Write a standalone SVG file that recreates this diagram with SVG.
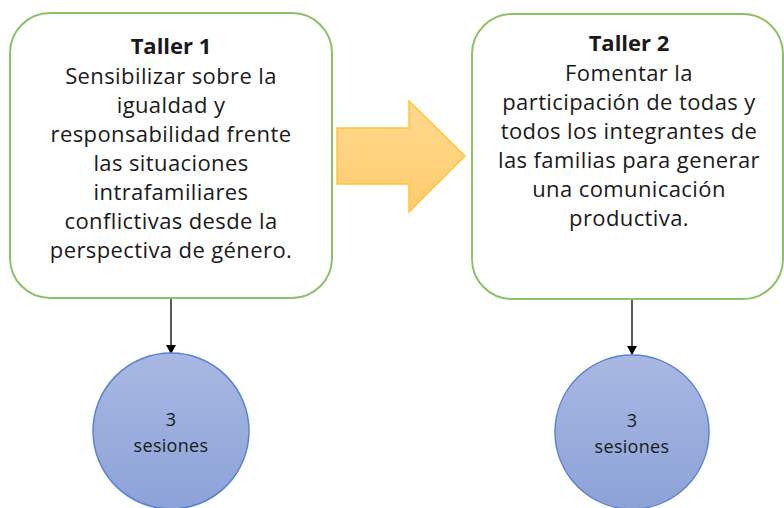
<svg xmlns="http://www.w3.org/2000/svg" width="784" height="508" viewBox="0 0 784 508">
<defs>
<linearGradient id="gBlue" x1="0" y1="0" x2="0" y2="1">
<stop offset="0" stop-color="#a8b8e2"/>
<stop offset="1" stop-color="#8ca2d8"/>
</linearGradient>
<linearGradient id="gOrange" x1="0" y1="0" x2="0" y2="1">
<stop offset="0" stop-color="#ffd98f"/>
<stop offset="1" stop-color="#ffcc6e"/>
</linearGradient>
<marker id="ah" markerWidth="10" markerHeight="10" refX="8" refY="5" orient="auto" markerUnits="userSpaceOnUse">
<path d="M0,0 L9,5 L0,10 Z" fill="#000"/>
</marker>
<style>
.box{fill:#fff;stroke:#8cc168;stroke-width:2}
.circ{fill:url(#gBlue);stroke:#5b82cf;stroke-width:1.5}
.t{font-family:"Open Sans","Noto Sans","Liberation Sans",sans-serif;font-size:22px;letter-spacing:0.4px;fill:#1a1a1a;text-anchor:middle}
.b{font-weight:bold;letter-spacing:0}
.s{font-family:"Open Sans","Noto Sans","Liberation Sans",sans-serif;font-size:18px;letter-spacing:0.3px;fill:#1a1a1a;text-anchor:middle}
.conn{stroke:#000;stroke-width:1.3;fill:none}
</style>
</defs>
<g id="connectors">
<line class="conn" x1="171" y1="298" x2="171" y2="353" marker-end="url(#ah)"/>
<line class="conn" x1="632" y1="299" x2="632" y2="354" marker-end="url(#ah)"/>
</g>
<g id="bigArrow">
<path d="M337,128 L409,128 L409,101 L465,156 L409,212 L409,184 L337,184 Z" fill="url(#gOrange)" stroke="#ffc533" stroke-width="1.5"/>
</g>
<g id="taller1">
<rect class="box" x="10" y="13" width="322" height="285" rx="40" ry="40"/>
<text class="t b" x="171" y="54">Taller 1</text>
<text class="t" x="171" y="84">Sensibilizar sobre la</text>
<text class="t" x="171" y="113">igualdad y</text>
<text class="t" x="171" y="142">responsabilidad frente</text>
<text class="t" x="171" y="171">las situaciones</text>
<text class="t" x="171" y="200">intrafamiliares</text>
<text class="t" x="171" y="229">conflictivas desde la</text>
<text class="t" x="171" y="258">perspectiva de género.</text>
</g>
<g id="taller2">
<rect class="box" x="472" y="14" width="311" height="285" rx="40" ry="40"/>
<text class="t b" x="629" y="51">Taller 2</text>
<text class="t" x="629" y="81">Fomentar la</text>
<text class="t" x="629" y="110">participación de todas y</text>
<text class="t" x="629" y="139">todos los integrantes de</text>
<text class="t" x="629" y="168">las familias para generar</text>
<text class="t" x="629" y="197">una comunicación</text>
<text class="t" x="629" y="226">productiva.</text>
</g>
<g id="sesiones1">
<circle class="circ" cx="171" cy="431" r="78"/>
<text class="s" x="171" y="426">3</text>
<text class="s" x="171" y="452">sesiones</text>
</g>
<g id="sesiones2">
<circle class="circ" cx="632" cy="432" r="77"/>
<text class="s" x="632" y="427">3</text>
<text class="s" x="632" y="453">sesiones</text>
</g>
</svg>
